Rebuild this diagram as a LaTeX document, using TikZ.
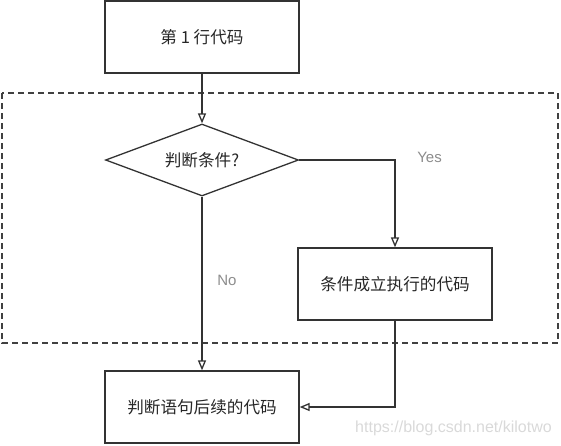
\documentclass[tikz,border=0pt]{standalone}
\usepackage{fontspec}
\setmainfont{Noto Sans CJK SC}
\newfontfamily\markfont{Liberation Sans}
\usetikzlibrary{arrows.meta,shapes.geometric}
\begin{document}
\begin{tikzpicture}[x=1pt,y=-1pt,line width=1.3pt,
    block/.style={rectangle,draw=black!80,minimum width=194pt,minimum height=72pt,font=\fontsize{16.6}{19}\selectfont,text=black!85},
    cond/.style={diamond,draw=black!80,minimum width=193pt,minimum height=72pt,inner sep=0pt,aspect=2.7,font=\fontsize{16.6}{19}\selectfont,text=black!85},
    flow/.style={draw=black!80,-{Triangle[open,width=8pt,length=10pt]}},
    tag/.style={text=black!45,font=\markfont\fontsize{15}{17}\selectfont}]
  \useasboundingbox (0,0) rectangle (561,445);
  \draw[black!75,dash pattern=on 6pt off 4pt] (2,93) rectangle (558,343);
  \node[block] (line1) at (202,37) {第 1 行代码};
  \node[cond] (test) at (202,160) {判断条件?};
  \node[block] (then) at (395,284) {条件成立执行的代码};
  \node[block] (after) at (202,407) {判断语句后续的代码};
  \node[tag] (yes) at (429.5,157) {Yes};
  \node[tag] (no) at (227,280) {No};
  \draw[flow] (line1) -- (test);
  \draw[flow] (test.east) -| (then);
  \draw[flow] (test) -- (after);
  \draw[flow] (then) |- (after);
  \node[text=black!15,font=\markfont\fontsize{16}{18}\selectfont] (mark) at (453.5,428) {https://blog.csdn.net/kilotwo};
\end{tikzpicture}
\end{document}
